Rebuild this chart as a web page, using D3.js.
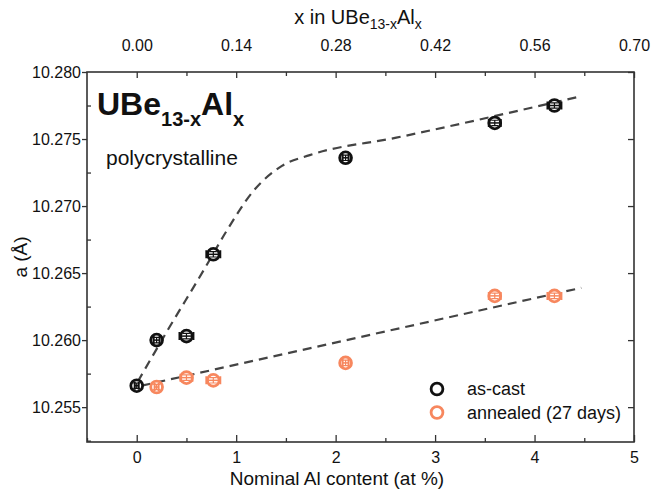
<!DOCTYPE html>
<html>
<head>
<meta charset="utf-8">
<script src="https://cdn.jsdelivr.net/npm/d3@7"></script>
<style>
  body { margin: 0; background: #fff; }
  text { font-family: "Liberation Sans", Arial, sans-serif; fill: #111; }
</style>
</head>
<body>
<div id="viz"></div>
<script>
// data
const castAl = [0, 0.2, 0.5, 0.77, 2.1, 3.6, 4.2];
const castA = [10.2566, 10.2600, 10.2603, 10.2664, 10.2736, 10.2762, 10.2775];
const castXErr = [0.02, 0.03, 0.07, 0.07, 0.03, 0.06, 0.07];
const castYErr = [0.0002, 0.0002, 0.0002, 0.0002, 0.0002, 0.0002, 0.0002];

const annAl = [0.2, 0.5, 0.77, 2.1, 3.6, 4.2];
const annA = [10.2565, 10.2572, 10.2570, 10.2583, 10.2633, 10.2633];
const annXErr = [0.02, 0.06, 0.07, 0.03, 0.06, 0.07];
const annYErr = [0.0002, 0.0002, 0.0002, 0.0002, 0.0002, 0.0002];

// dashed guide curves
const guideCastX = [0.01, 0.30, 0.68, 0.90, 1.17, 1.46, 1.74, 2.61, 4.47];
const guideCastY = [10.2569, 10.2606, 10.2653, 10.2681, 10.2711, 10.2730, 10.2738, 10.2751, 10.2782];
const guideAnnX = [0.05, 4.47];
const guideAnnY = [10.2566, 10.2639];

const bottomTicks = [0, 1, 2, 3, 4, 5];
const topTicks = [0.00, 0.14, 0.28, 0.42, 0.56, 0.70];
const yTicks = [10.255, 10.260, 10.265, 10.270, 10.275, 10.280];

const black = "#111";
const orange = "#f7875e";

// svg and plot box
const width = 652, height = 489;
const box = {left: 87, right: 634, top: 72, bottom: 442};

const svg = d3.select("#viz").append("svg")
    .attr("width", width)
    .attr("height", height);

svg.append("rect").attr("width", width).attr("height", height).attr("fill", "#fff");

const x = d3.scaleLinear().domain([-0.5, 5]).range([box.left, box.right]);
const xTop = d3.scaleLinear().domain([-0.07, 0.70]).range([box.left, box.right]);
const y = d3.scaleLinear().domain([10.2524, 10.280]).range([box.bottom, box.top]);

// bottom axis, ticks pointing in
const xAxis = d3.axisBottom(x).tickValues(bottomTicks).tickFormat(d3.format("d"))
    .tickSizeInner(-7).tickSizeOuter(0).tickPadding(10);
const gx = svg.append("g").attr("transform", "translate(0," + box.bottom + ")").call(xAxis);
gx.selectAll(".tick line").attr("stroke", "#333").attr("stroke-width", 1.3);
svg.append("g").attr("transform", "translate(0," + box.bottom + ")")
    .call(d3.axisBottom(x).tickValues(d3.range(-0.5, 5, 1)).tickFormat("").tickSizeInner(-4).tickSizeOuter(0))
    .call(g => g.select(".domain").remove())
    .selectAll(".tick line").attr("stroke", "#333").attr("stroke-width", 1.3);

// top axis in x of UBe13-xAlx
const xTopAxis = d3.axisTop(xTop).tickValues(topTicks).tickFormat(d3.format(".2f"))
    .tickSizeInner(-6).tickSizeOuter(0).tickPadding(21);
const gt = svg.append("g").attr("transform", "translate(0," + box.top + ")").call(xTopAxis);
gt.selectAll(".tick line").attr("stroke", "#333").attr("stroke-width", 1.3);
svg.append("g").attr("transform", "translate(0," + box.top + ")")
    .call(d3.axisTop(xTop).tickValues(d3.range(0.07, 0.70, 0.14)).tickFormat("").tickSizeInner(-4).tickSizeOuter(0))
    .call(g => g.select(".domain").remove())
    .selectAll(".tick line").attr("stroke", "#333").attr("stroke-width", 1.3);

// left axis, major ticks out, minor in
const yAxis = d3.axisLeft(y).tickValues(yTicks).tickFormat(d3.format(".3f"))
    .tickSizeInner(5).tickSizeOuter(0).tickPadding(1);
const gy = svg.append("g").attr("transform", "translate(" + box.left + ",0)").call(yAxis);
gy.selectAll(".tick line").attr("stroke", "#333").attr("stroke-width", 1.3);
svg.append("g").attr("transform", "translate(" + box.left + ",0)")
    .call(d3.axisLeft(y).tickValues(d3.range(10.2525, 10.280, 0.005)).tickFormat("").tickSizeInner(-4).tickSizeOuter(0))
    .call(g => g.select(".domain").remove())
    .selectAll(".tick line").attr("stroke", "#333").attr("stroke-width", 1.3);

// right axis, ticks in, no labels
svg.append("g").attr("transform", "translate(" + box.right + ",0)")
    .call(d3.axisRight(y).tickValues(yTicks).tickFormat("").tickSizeInner(-6).tickSizeOuter(0))
    .call(g => g.select(".domain").remove())
    .selectAll(".tick line").attr("stroke", "#333").attr("stroke-width", 1.3);

svg.selectAll(".tick text").style("font-size", "16px").attr("fill", "#111");

// frame
svg.append("rect")
    .attr("x", box.left).attr("y", box.top)
    .attr("width", box.right - box.left).attr("height", box.bottom - box.top)
    .attr("fill", "none").attr("stroke", "#333").attr("stroke-width", 1.6);
svg.selectAll(".domain").remove();

// axis titles
svg.append("text")
    .attr("x", 337).attr("y", 485)
    .attr("text-anchor", "middle").style("font-size", "19px")
    .text("Nominal Al content (at %)");

const topTitle = svg.append("text")
    .attr("x", 358).attr("y", 24)
    .attr("text-anchor", "middle").style("font-size", "20px");
topTitle.append("tspan").text("x in UBe");
topTitle.append("tspan").attr("dy", 5).style("font-size", "14px").text("13-x");
topTitle.append("tspan").attr("dy", -5).text("Al");
topTitle.append("tspan").attr("dy", 5).style("font-size", "14px").text("x");

svg.append("text")
    .attr("transform", "translate(27,257) rotate(-90)")
    .attr("text-anchor", "middle").style("font-size", "19px")
    .text("a (Å)");

// compound label
const title = svg.append("text")
    .attr("x", 97).attr("y", 115)
    .style("font-size", "32px").style("font-weight", "bold");
title.append("tspan").text("UBe");
title.append("tspan").attr("dy", 11).style("font-size", "20px").text("13-x");
title.append("tspan").attr("dy", -11).text("Al");
title.append("tspan").attr("dy", 11).style("font-size", "20px").text("x");

svg.append("text")
    .attr("x", 106).attr("y", 165)
    .style("font-size", "21px")
    .text("polycrystalline");

// dashed guides
const line = d3.line().x(d => x(d[0])).y(d => y(d[1]));
svg.append("path")
    .datum(d3.zip(guideCastX, guideCastY))
    .attr("d", line.curve(d3.curveMonotoneX))
    .attr("fill", "none").attr("stroke", "#444").attr("stroke-width", 2.2)
    .attr("stroke-dasharray", "9,6");
svg.append("path")
    .datum(d3.zip(guideAnnX, guideAnnY))
    .attr("d", d3.line().x(d => x(d[0])).y(d => y(d[1])))
    .attr("fill", "none").attr("stroke", "#444").attr("stroke-width", 2.2)
    .attr("stroke-dasharray", "9,6");

// markers with error bars
function drawSeries(xs, ys, xe, ye, color) {
    const pts = d3.range(xs.length).map(i => ({x: xs[i], y: ys[i], xe: xe[i], ye: ye[i]}));
    const g = svg.append("g").selectAll("g").data(pts).enter().append("g");
    g.append("circle")
        .attr("cx", d => x(d.x)).attr("cy", d => y(d.y)).attr("r", 5.9)
        .attr("fill", "#fff").attr("stroke", color).attr("stroke-width", 2.8);
    // x error bar
    g.append("line")
        .attr("x1", d => x(d.x - d.xe)).attr("x2", d => x(d.x + d.xe))
        .attr("y1", d => y(d.y)).attr("y2", d => y(d.y))
        .attr("stroke", color).attr("stroke-width", 1.5);
    g.append("path")
        .attr("d", d => {
            const cy = y(d.y);
            return "M" + x(d.x - d.xe) + "," + (cy - 4) + "V" + (cy + 4) +
                   "M" + x(d.x + d.xe) + "," + (cy - 4) + "V" + (cy + 4);
        })
        .attr("stroke", color).attr("stroke-width", 2);
    // y error bar
    g.append("path")
        .attr("d", d => {
            const cx = x(d.x), y1 = y(d.y - d.ye), y2 = y(d.y + d.ye);
            return "M" + cx + "," + y1 + "V" + y2 +
                   "M" + (cx - 3.5) + "," + y1 + "H" + (cx + 3.5) +
                   "M" + (cx - 3.5) + "," + y2 + "H" + (cx + 3.5);
        })
        .attr("stroke", color).attr("stroke-width", 1.2).attr("fill", "none");
}
drawSeries(castAl, castA, castXErr, castYErr, black);
drawSeries(annAl, annA, annXErr, annYErr, orange);

// legend
const legend = [{label: "as-cast", color: black}, {label: "annealed (27 days)", color: orange}];
const lg = svg.append("g").selectAll("g").data(legend).enter().append("g")
    .attr("transform", (d, i) => "translate(437," + (389 + i * 23.5) + ")");
lg.append("circle").attr("r", 5.9).attr("fill", "none")
    .attr("stroke", d => d.color).attr("stroke-width", 2.8);
lg.append("text").attr("x", 30).attr("y", 6).style("font-size", "18px").text(d => d.label);
</script>
</body>
</html>
